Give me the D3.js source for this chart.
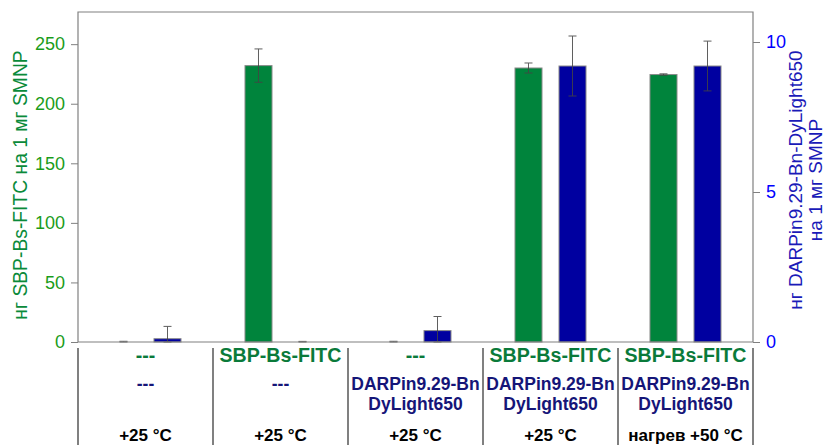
<!DOCTYPE html>
<html><head><meta charset="utf-8">
<script src="https://cdn.jsdelivr.net/npm/d3@7"></script>
<style>body{margin:0;background:#fff}svg{display:block;font-family:"Liberation Sans",Arial,sans-serif}</style>
</head><body><svg id="c" width="827" height="445"></svg>
<script>
const groups = ["g1","g2","g3","g4","g5"];
const row1 = ["---","SBP-Bs-FITC","---","SBP-Bs-FITC","SBP-Bs-FITC"];
const row2 = [["---"],["---"],["DARPin9.29-Bn","DyLight650"],["DARPin9.29-Bn","DyLight650"],["DARPin9.29-Bn","DyLight650"]];
const row3 = ["+25 °C","+25 °C","+25 °C","+25 °C","нагрев +50 °C"];
const fitcValues = [0, 232, 0, 230, 224.5];
const fitcErrors = [0.6, 14, 0.6, 4.2, 0.6];
const darpinValues = [0.11, 0, 0.38, 9.2, 9.2];
const darpinErrors = [0.41, 0.02, 0.47, 1.0, 0.83];
const leftTicks = [0,50,100,150,200,250];
const rightTicks = [0,5,10];

const svg = d3.select("#c");
const L = 78, R = 753, T = 12, B = 342;
const x0 = d3.scaleBand().domain(groups).range([L,R]).padding(0);
const x1 = d3.scaleBand().domain(["f","d"]).range([0,x0.bandwidth()]).paddingInner(0.386).paddingOuter(0.727);
const yL = d3.scaleLinear().domain([0,277]).range([B,T]);
const yR = d3.scaleLinear().domain([0,11]).range([B,T]);

const green = "#00843c", blue = "#0000a0";

// bars
const g = svg.append("g");
groups.forEach((k,i)=>{
  const gx = x0(k);
  g.append("rect").attr("x", gx + x1("f")).attr("width", x1.bandwidth())
    .attr("y", yL(fitcValues[i])).attr("height", B - yL(fitcValues[i]))
    .attr("fill", green).attr("stroke","#8a8a8a").attr("stroke-width",1);
  g.append("rect").attr("x", gx + x1("d")).attr("width", x1.bandwidth())
    .attr("y", yR(darpinValues[i])).attr("height", B - yR(darpinValues[i]))
    .attr("fill", blue).attr("stroke","#8a8a8a").attr("stroke-width",1);
});
// error bars
function err(cx, scale, v, e){
  if(!e) return;
  const y1 = scale(v+e), y2 = scale(Math.max(0,v-e));
  const eg = svg.append("g").attr("stroke","#444").attr("stroke-width",1).attr("opacity",0.85);
  eg.append("line").attr("x1",cx).attr("x2",cx).attr("y1",y1).attr("y2",y2);
  eg.append("line").attr("x1",cx-4).attr("x2",cx+4).attr("y1",y1).attr("y2",y1);
  eg.append("line").attr("x1",cx-4).attr("x2",cx+4).attr("y1",y2).attr("y2",y2);
}
groups.forEach((k,i)=>{
  err(x0(k)+x1("f")+x1.bandwidth()/2, yL, fitcValues[i], fitcErrors[i]);
  err(x0(k)+x1("d")+x1.bandwidth()/2, yR, darpinValues[i], darpinErrors[i]);
});

// frame
svg.append("path").attr("d",`M${L},${B}V${T}H${R}V${B}`).attr("fill","none").attr("stroke","#808080").attr("stroke-width",1.2);
svg.append("line").attr("x1",L).attr("x2",R).attr("y1",B).attr("y2",B).attr("stroke","#808080").attr("stroke-width",1.2);

// axes
const ax = svg.append("g").attr("transform",`translate(${L},0)`)
  .call(d3.axisLeft(yL).tickValues(leftTicks).tickSize(7).tickPadding(6));
ax.select(".domain").remove();
ax.selectAll("line").attr("stroke","#808080");
ax.selectAll("text").attr("fill","#1a9c1a").attr("font-size",18).attr("font-family","Liberation Sans, Arial");
const ar = svg.append("g").attr("transform",`translate(${R},0)`)
  .call(d3.axisRight(yR).tickValues(rightTicks).tickSize(7).tickPadding(6));
ar.select(".domain").remove();
ar.selectAll("line").attr("stroke","#808080");
ar.selectAll("text").attr("fill","#0000ff").attr("font-size",18).attr("font-family","Liberation Sans, Arial");

// axis titles
svg.append("text").attr("transform",`translate(27,185) rotate(-90)`).attr("text-anchor","middle")
  .attr("fill","#0a8a3a").attr("font-size",19.3).text("нг SBP-Bs-FITC на 1 мг SMNP");
const rt = svg.append("text").attr("transform",`translate(802,180) rotate(-90)`).attr("text-anchor","middle")
  .attr("fill","#1a1ab8").attr("font-size",19);
rt.append("tspan").attr("x",0).attr("dy",0).text("нг DARPin9.29-Bn-DyLight650");
rt.append("tspan").attr("x",0).attr("dy",20).text("на 1 мг SMNP");

// table separators
const seps = groups.map(k=>x0(k)).concat([R]);
svg.selectAll(".sep").data(seps).join("line").attr("x1",d=>d).attr("x2",d=>d)
  .attr("y1",348).attr("y2",445).attr("stroke","#808080").attr("stroke-width",2);

// table text
groups.forEach((k,i)=>{
  const cx = x0(k)+x0.bandwidth()/2;
  svg.append("text").attr("x",cx).attr("y",362).attr("text-anchor","middle").attr("font-weight","bold")
    .attr("font-size",19.6).attr("fill","#0a7a3a").text(row1[i]);
  row2[i].forEach((t,j)=>{
    svg.append("text").attr("x",cx).attr("y",390+j*20).attr("text-anchor","middle").attr("font-weight","bold")
      .attr("font-size",17.5).attr("fill","#151578").text(t);
  });
  svg.append("text").attr("x",cx).attr("y",441).attr("text-anchor","middle").attr("font-weight","bold")
    .attr("font-size",17).attr("fill","#000").text(row3[i]);
});
</script></body></html>
